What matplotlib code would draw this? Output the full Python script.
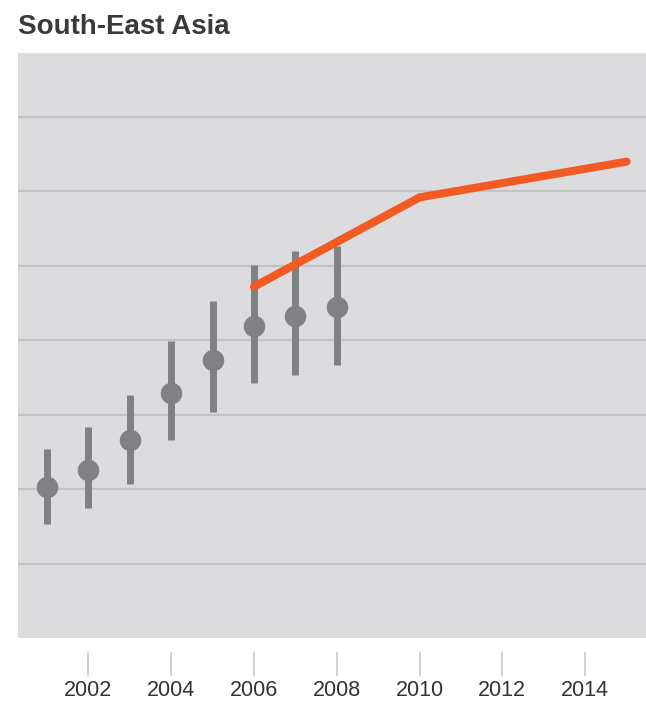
import matplotlib
matplotlib.use("Agg")
import matplotlib.pyplot as plt

# Data
years = [2001, 2002, 2003, 2004, 2005, 2006, 2007, 2008]
estimate = [2.03, 2.26, 2.66, 3.29, 3.74, 4.19, 4.32, 4.45]
upper = [2.54, 2.83, 3.26, 3.99, 4.53, 5.01, 5.20, 5.27]
lower = [1.53, 1.74, 2.07, 2.66, 3.03, 3.43, 3.54, 3.67]

proj_years = [2006, 2010, 2015]
projection = [4.72, 5.92, 6.40]

xticks = [2002, 2004, 2006, 2008, 2010, 2012, 2014]
gridlines = [1, 2, 3, 4, 5, 6, 7]

title = "South-East Asia"

fig = plt.figure(figsize=(6.46, 7.05), dpi=100)
ax = fig.add_axes([18 / 646, 67 / 705, 628 / 646, 585 / 705])
bg = "#DCDCDE"
ax.set_facecolor(bg)

for g in gridlines:
    ax.axhline(g, color="#C3C3C5", lw=1.6, zorder=1)

grey = "#808184"
yerr = [[e - l for e, l in zip(estimate, lower)], [u - e for e, u in zip(estimate, upper)]]
ax.errorbar(years, estimate, yerr=yerr, fmt="o", color=grey, ecolor=grey,
            elinewidth=5.0, markersize=14.5, capsize=0, zorder=3)

ax.plot(proj_years, projection, color="#F15A22", lw=5.8, solid_capstyle="round",
        solid_joinstyle="round", zorder=4)

ax.set_xlim(2000.3, 2015.47)
ax.set_ylim(0, 7.86)

for s in ["top", "right", "left"]:
    ax.spines[s].set_visible(False)
ax.spines["bottom"].set_position(("outward", 10))
ax.spines["bottom"].set_visible(False)
ax.set_yticks([])
ax.set_xticks(xticks)
ax.set_xticklabels([str(x) for x in xticks])
ax.tick_params(axis="x", direction="out", length=17, width=1.2, color="#C8C8C8",
               pad=3, labelsize=15.5, labelcolor="#333333")
for lab in ax.get_xticklabels():
    lab.set_family(["Liberation Sans", "DejaVu Sans"])

fig.text(18 / 646, 1 - 27 / 705, title, ha="left", va="center", fontsize=20,
         fontweight="bold", color="#3a3a3a", family=["Liberation Sans", "DejaVu Sans"])

fig.savefig("out.png", dpi=100, facecolor="white")
